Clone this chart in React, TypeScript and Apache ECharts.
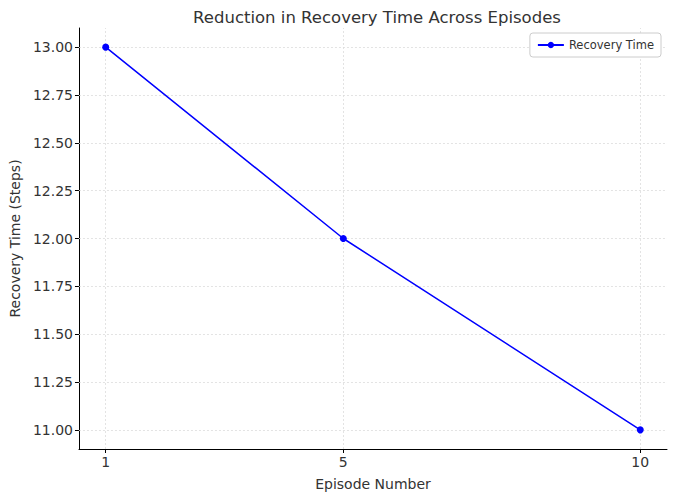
import React, { useEffect, useRef } from "react";
import * as echarts from "echarts";

const episodes = [1, 5, 10];
const recoveryTime = [13, 12, 11];
const xTicks = [1, 5, 10];
const yTicks = [11, 11.25, 11.5, 11.75, 12, 12.25, 12.5, 12.75, 13];

const FONT = "DejaVu Sans";

export default function App() {
  const ref = useRef<HTMLDivElement>(null);
  useEffect(() => {
    document.body.style.margin = "0";
    if (!ref.current) return;
    const chart = echarts.init(ref.current, null, { renderer: "svg" });
    const gridStyle = { color: "#dcdcdc", type: [2, 2] as any, width: 0.8 };
    chart.setOption({
      animation: false,
      backgroundColor: "#fff",
      textStyle: { fontFamily: FONT },
      title: {
        text: "Reduction in Recovery Time Across Episodes",
        left: 372,
        textAlign: "center",
        top: 4,
        textStyle: { fontFamily: FONT, fontSize: 16.5, fontWeight: "normal", color: "#333" },
      },
      legend: {
        right: 14,
        top: 33,
        orient: "vertical",
        backgroundColor: "#fff",
        borderColor: "#ccc",
        borderWidth: 1,
        borderRadius: 3,
        padding: [6, 7, 6, 7],
        itemWidth: 26,
        itemHeight: 8,
        itemGap: 4,
        textStyle: { fontFamily: FONT, fontSize: 11.5, color: "#333" },
        data: ["Recovery Time"],
      },
      grid: { left: 78, right: 8, top: 28, bottom: 42, containLabel: false },
      xAxis: {
        type: "value",
        min: 0.55,
        max: 10.45,
        name: "Episode Number",
        nameLocation: "middle",
        nameGap: 28,
        nameTextStyle: { fontFamily: FONT, fontSize: 14, color: "#333" },
        axisLine: { onZero: false, lineStyle: { color: "#000", width: 1 } },
        axisTick: { customValues: xTicks, length: 4, lineStyle: { color: "#000" } },
        axisLabel: { customValues: xTicks, fontFamily: FONT, fontSize: 14, color: "#333", margin: 6 },
        splitLine: { show: false },
      },
      yAxis: {
        type: "value",
        min: 10.9,
        max: 13.1,
        name: "Recovery Time (Steps)",
        nameLocation: "middle",
        nameGap: 51,
        nameRotate: 90,
        nameTextStyle: { fontFamily: FONT, fontSize: 14, color: "#333" },
        axisLine: { show: true, lineStyle: { color: "#000", width: 1 } },
        axisTick: { show: true, customValues: yTicks, length: 4, lineStyle: { color: "#000" } },
        axisLabel: {
          customValues: yTicks,
          fontFamily: FONT,
          fontSize: 14,
          color: "#333",
          margin: 6,
          formatter: (v: number) => v.toFixed(2),
        },
        splitLine: { show: false },
      },
      series: [
        {
          name: "Recovery Time",
          type: "line",
          data: episodes.map((e, i) => [e, recoveryTime[i]]),
          color: "#0000ff",
          lineStyle: { color: "#0000ff", width: 1.5 },
          symbol: "circle",
          symbolSize: 7,
          itemStyle: { color: "#0000ff" },
          z: 5,
          markLine: {
            silent: true,
            symbol: "none",
            label: { show: false },
            lineStyle: gridStyle,
            z: 1,
            data: [
              ...xTicks.map((v) => ({ xAxis: v, lineStyle: gridStyle })),
              ...yTicks.map((v) => ({ yAxis: v, lineStyle: gridStyle })),
            ],
          },
        },
      ],
    });
    return () => chart.dispose();
  }, []);
  return <div ref={ref} style={{ width: 675, height: 496 }} />;
}
